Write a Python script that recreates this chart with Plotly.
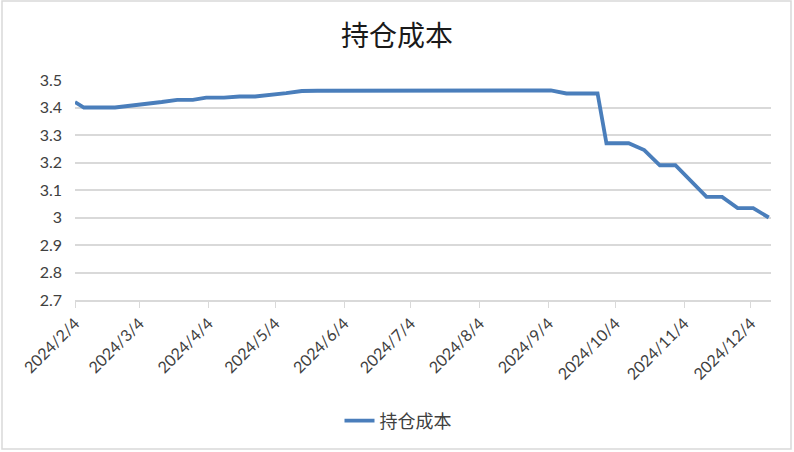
import plotly.graph_objects as go

# weekly observations of holding cost
dates = [
    "2024-02-04", "2024-02-08", "2024-02-22", "2024-02-29", "2024-03-07",
    "2024-03-14", "2024-03-21", "2024-03-28", "2024-04-03", "2024-04-11",
    "2024-04-18", "2024-04-25", "2024-05-09", "2024-05-16", "2024-05-23",
    "2024-05-30", "2024-06-06", "2024-06-13", "2024-06-20", "2024-06-27",
    "2024-07-04", "2024-07-11", "2024-07-18", "2024-07-25", "2024-08-01",
    "2024-08-08", "2024-08-15", "2024-08-22", "2024-08-29", "2024-09-05",
    "2024-09-12", "2024-09-19", "2024-09-26", "2024-09-30", "2024-10-10",
    "2024-10-17", "2024-10-24", "2024-10-31", "2024-11-07", "2024-11-14",
    "2024-11-21", "2024-11-28", "2024-12-05", "2024-12-12",
]
cost = [
    3.42, 3.40, 3.40, 3.406, 3.413,
    3.42, 3.428, 3.428, 3.436, 3.436,
    3.440, 3.440, 3.452, 3.460, 3.461,
    3.461, 3.461, 3.461, 3.461, 3.461,
    3.461, 3.462, 3.462, 3.462, 3.462,
    3.462, 3.462, 3.462, 3.462, 3.462,
    3.451, 3.451, 3.451, 3.27, 3.27,
    3.245, 3.19, 3.19, 3.132, 3.075,
    3.075, 3.034, 3.034, 3.0,
]

tick_dates = [
    "2024-02-04", "2024-03-04", "2024-04-04", "2024-05-04", "2024-06-04",
    "2024-07-04", "2024-08-04", "2024-09-04", "2024-10-04", "2024-11-04",
    "2024-12-04",
]
tick_labels = [
    "2024/2/4", "2024/3/4", "2024/4/4", "2024/5/4", "2024/6/4",
    "2024/7/4", "2024/8/4", "2024/9/4", "2024/10/4", "2024/11/4",
    "2024/12/4",
]

W, H = 794, 452
L, R, T, B = 75, 23, 80, 152
pw, ph = W - L - R, H - T - B

grey = "#d9d9d9"
txt = "#404040"

fig = go.Figure()
fig.add_trace(go.Scatter(
    x=dates, y=cost, mode="lines", name="持仓成本",
    line=dict(color="#4a7ebb", width=3.8),
))

fig.update_layout(
    width=W, height=H,
    margin=dict(l=L, r=R, t=T, b=B),
    paper_bgcolor="white", plot_bgcolor="white",
    title=dict(
        text="持仓成本", x=0.5, xanchor="center", y=1 - 36 / H, yanchor="middle",
        font=dict(family="Noto Sans CJK SC", size=28, color="#1a1a1a"),
    ),
    showlegend=True,
    legend=dict(
        orientation="h", x=(398 - L) / pw, xanchor="center",
        y=(T + ph - 421) / ph, yanchor="middle",
        font=dict(family="Noto Sans CJK SC", size=18, color=txt),
    ),
    xaxis=dict(
        type="date", range=["2024-02-04", "2024-12-13"],
        tickvals=tick_dates, ticktext=tick_labels, tickangle=-45,
        showgrid=False, showline=True, linecolor=grey, linewidth=1.5,
        ticks="outside", ticklen=6, tickcolor=grey,
        tickfont=dict(family="Lato", size=16, color=txt),
    ),
    yaxis=dict(
        range=[2.7, 3.5], dtick=0.1, tickformat="~g",
        showgrid=True, gridcolor=grey, gridwidth=1.5,
        zeroline=False, showline=False,
        tickfont=dict(family="Lato", size=16, color=txt),
        ticklabelstandoff=12,
    ),
    shapes=[dict(
        type="rect", xref="paper", yref="paper",
        x0=(2 - L) / pw, x1=(791 - L) / pw,
        y0=(T + ph - 449) / ph, y1=(T + ph - 1) / ph,
        line=dict(color=grey, width=1.5), fillcolor="rgba(0,0,0,0)", layer="below",
    )],
)

fig.write_html(
    "out.html",
    config={"displayModeBar": False},
    post_script="document.body.style.margin='0';",
)
